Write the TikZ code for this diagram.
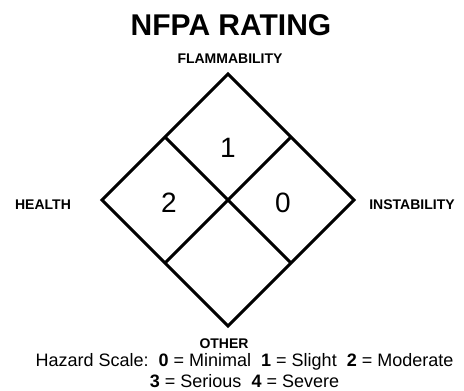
\documentclass[tikz,border=0pt]{standalone}
\usepackage{fontspec}
\setmainfont{Liberation Sans}
\begin{document}
\begin{tikzpicture}[x=1pt,y=-1pt,
  edge/.style={line width=3pt,line join=miter},
  lbl/.style={anchor=base,inner sep=0pt,font=\fontsize{14}{16}\selectfont\bfseries},
  num/.style={anchor=base,inner sep=0pt,font=\fontsize{28}{32}\selectfont},
  scale text/.style={anchor=base,inner sep=0pt,font=\fontsize{18}{21}\selectfont}]
\useasboundingbox (0,0) rectangle (464,391);
\coordinate (T) at (228,74);
\coordinate (R) at (354,200);
\coordinate (B) at (228,326);
\coordinate (L) at (102,200);
\coordinate (TL) at (165,137);
\coordinate (TR) at (291,137);
\coordinate (BL) at (165,263);
\coordinate (BR) at (291,263);
\draw[edge] (T) -- (R) -- (B) -- (L) -- cycle;
\draw[edge] (TL) -- (BR);
\draw[edge] (TR) -- (BL);
\node[anchor=base,inner sep=0pt,font=\fontsize{30}{34}\selectfont\bfseries] (title) at (231,35) {NFPA RATING};
\node[lbl] (flam) at (230,63) {FLAMMABILITY};
\node[lbl] (health) at (43,209) {HEALTH};
\node[lbl] (inst) at (412,209) {INSTABILITY};
\node[lbl] (other) at (224,348) {OTHER};
\node[num] (n1) at (228,157) {1};
\node[num] (n2) at (169,212) {2};
\node[num] (n0) at (283,212) {0};
\node[scale text] (scale1) at (244.5,366) {Hazard Scale:\ \ \textbf{0} = Minimal\ \ \textbf{1} = Slight\ \ \textbf{2} = Moderate};
\node[scale text] (scale2) at (244.5,387) {\textbf{3} = Serious\ \ \textbf{4} = Severe};
\end{tikzpicture}
\end{document}
